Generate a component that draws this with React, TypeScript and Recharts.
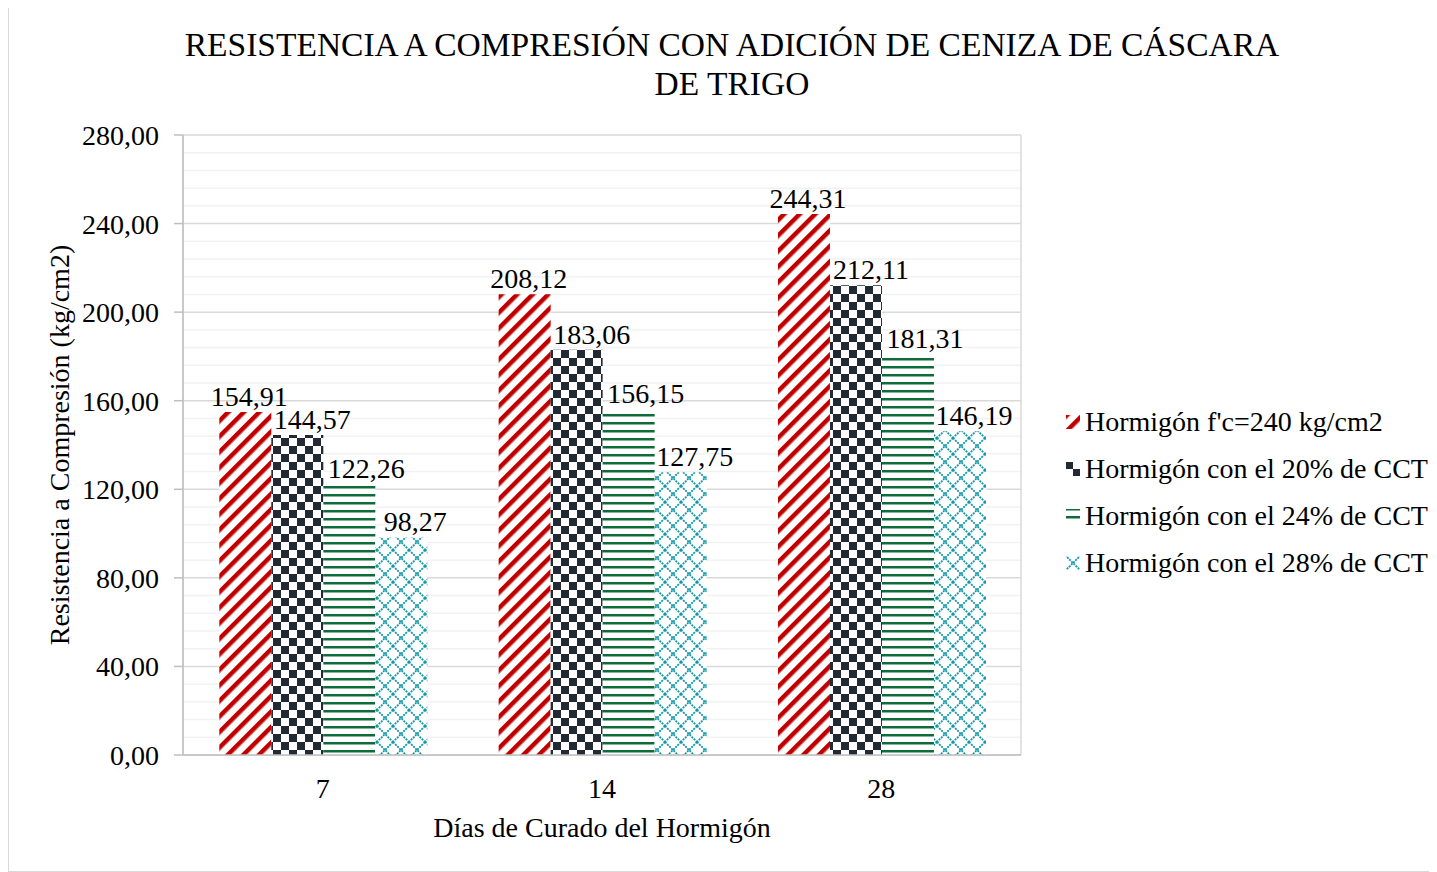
import React from "react";
import {
  BarChart,
  Bar,
  XAxis,
  YAxis,
  CartesianGrid,
  LabelList,
} from "recharts";

const days = ["7", "14", "28"];
const patron = [154.91, 208.12, 244.31];
const cct20 = [144.57, 183.06, 212.11];
const cct24 = [122.26, 156.15, 181.31];
const cct28 = [98.27, 127.75, 146.19];
const yTicks = [0, 40, 80, 120, 160, 200, 240, 280];
const minorTicks = [
  8, 16, 24, 32, 48, 56, 64, 72, 88, 96, 104, 112, 128, 136, 144, 152, 168,
  176, 184, 192, 208, 216, 224, 232, 248, 256, 264, 272,
];
const edgeTicks = [0, 1, 2, 3];

const seriesNames = [
  "Hormigón f'c=240 kg/cm2",
  "Hormigón con el 20% de CCT",
  "Hormigón con el 24% de CCT",
  "Hormigón con el 28% de CCT",
];

const data = days.map((d, i) => ({
  day: d,
  s0: patron[i],
  s1: cct20[i],
  s2: cct24[i],
  s3: cct28[i],
}));

const FONT = '"Liberation Serif", "Times New Roman", serif';
const fills = ["url(#pRed)", "url(#pChk)", "url(#pGrn)", "url(#pTeal)"];
const labelShift = [4, 15, 17, 14];

const fmt = (v: number) => v.toFixed(2).replace(".", ",");

function makeLabel(shift: number) {
  // eslint-disable-next-line @typescript-eslint/no-explicit-any
  return (props: any) => {
    const { x, y, width, value } = props;
    return (
      <text
        x={Number(x) + Number(width) / 2 + shift}
        y={Number(y) - 6}
        textAnchor="middle"
        fontFamily={FONT}
        fontSize={28}
        fill="#000"
      >
        {fmt(Number(value))}
      </text>
    );
  };
}

function LegendBox() {
  return (
    <div
      style={{
        position: "absolute",
        left: 1056,
        top: 392,
        fontFamily: FONT,
        fontSize: 28,
        color: "#000",
      }}
    >
      {seriesNames.map((n, i) => (
        <div
          key={n}
          style={{ display: "flex", alignItems: "center", height: 47 }}
        >
          <svg width={16} height={16} style={{ marginRight: 4 }}>
            <rect x={1} y={1} width={14} height={14} fill={fills[i]} />
          </svg>
          <span style={{ whiteSpace: "nowrap" }}>{n}</span>
        </div>
      ))}
    </div>
  );
}

export default function App() {
  return (
    <div
      style={{
        position: "relative",
        width: 1427,
        height: 865,
        marginTop: -3,
        border: "1px solid #D9D9D9",
        background: "#fff",
        fontFamily: FONT,
      }}
    >
      <div
        style={{
          position: "absolute",
          left: 23,
          top: 19,
          width: 1400,
          textAlign: "center",
          fontSize: 33.5,
          lineHeight: "39px",
          color: "#000",
        }}
      >
        RESISTENCIA A COMPRESIÓN CON ADICIÓN DE CENIZA DE CÁSCARA
        <br />
        DE TRIGO
      </div>
      <BarChart
        width={1427}
        height={865}
        data={data}
        margin={{ top: 129, right: 415, left: 0, bottom: 45 }}
        barCategoryGap="13%"
        barGap={0}
      >
        <defs>
          <pattern
            id="pRed"
            width={11}
            height={11}
            patternUnits="userSpaceOnUse"
            patternTransform="rotate(45)"
          >
            <rect width={11} height={11} fill="#fff" />
            <rect width={4.5} height={11} fill="#C00000" />
          </pattern>
          <pattern id="pChk" width={16} height={16} patternUnits="userSpaceOnUse">
            <rect width={16} height={16} fill="#fff" />
            <rect width={8} height={8} fill="#222A35" />
            <rect x={8} y={8} width={8} height={8} fill="#222A35" />
          </pattern>
          <pattern id="pGrn" width={8} height={8} patternUnits="userSpaceOnUse">
            <rect width={8} height={8} fill="#fff" />
            <rect y={0} width={8} height={2.5} fill="#0E6B3A" />
          </pattern>
          <pattern id="pTeal" width={16} height={16} patternUnits="userSpaceOnUse">
            <rect width={16} height={16} fill="#fff" />
            <path
              d="M0 0 L16 16 M16 0 L0 16"
              stroke="#1199A6"
              strokeWidth={1.8}
              strokeDasharray="2 1"
            />
          </pattern>
        </defs>
        <CartesianGrid
          vertical={false}
          horizontalValues={minorTicks}
          stroke="#F2F2F2"
          strokeWidth={1.5}
        />
        <CartesianGrid stroke="#D9D9D9" strokeWidth={1.5} />
        <XAxis
          xAxisId={0}
          type="number"
          domain={[0, 3]}
          ticks={edgeTicks}
          tick={false}
          height={1}
          tickSize={9}
          axisLine={{ stroke: "#BFBFBF", strokeWidth: 1.5 }}
          tickLine={{ stroke: "#BFBFBF", strokeWidth: 1.5 }}
          allowDataOverflow
        />
        <XAxis
          xAxisId="cat"
          dataKey="day"
          height={70}
          axisLine={false}
          tickLine={false}
          // eslint-disable-next-line @typescript-eslint/no-explicit-any
          tick={(p: any) => (
            <text
              x={p.x}
              y={p.y + 34}
              textAnchor="middle"
              fontFamily={FONT}
              fontSize={28}
              fill="#000"
            >
              {p.payload.value}
            </text>
          )}
          label={{
            value: "Días de Curado del Hormigón",
            position: "insideBottom",
            offset: -11,
            fontFamily: FONT,
            fontSize: 28,
            fill: "#000",
          }}
        />
        <YAxis
          width={174}
          domain={[0, 280]}
          ticks={yTicks}
          interval={0}
          tickFormatter={fmt}
          tickSize={9}
          tickMargin={15}
          axisLine={{ stroke: "#BFBFBF", strokeWidth: 1.5 }}
          tickLine={{ stroke: "#BFBFBF", strokeWidth: 1.5 }}
          tick={{ fontFamily: FONT, fontSize: 28, fill: "#000" }}
          label={{
            value: "Resistencia a Compresión (kg/cm2)",
            angle: -90,
            position: "insideLeft",
            offset: 50,
            style: { textAnchor: "middle" },
            fontFamily: FONT,
            fontSize: 28,
            fill: "#000",
          }}
        />
        {["s0", "s1", "s2", "s3"].map((k, i) => (
          <Bar
            key={k}
            xAxisId="cat"
            dataKey={k}
            name={seriesNames[i]}
            fill={fills[i]}
            isAnimationActive={false}
          >
            <LabelList dataKey={k} content={makeLabel(labelShift[i])} />
          </Bar>
        ))}
      </BarChart>
      <LegendBox />
    </div>
  );
}
